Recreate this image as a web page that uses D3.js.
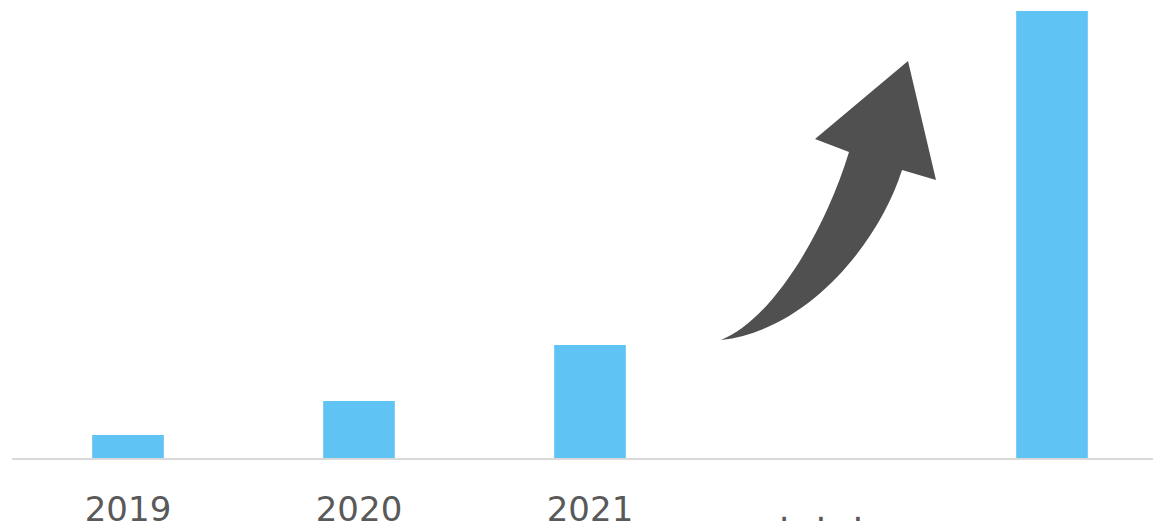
<!DOCTYPE html>
<html>
<head>
<meta charset="utf-8">
<script src="https://cdn.jsdelivr.net/npm/d3@7"></script>
<style>
  html, body { margin: 0; padding: 0; background: #fff; }
  svg { display: block; }
</style>
</head>
<body>
<svg id="mainsvg" width="1153" height="527"></svg>
<script>
// categories and values (last category has no label)
var categories = ["2019", "2020", "2021", "dots", "future"];
var tickLabels = ["2019", "2020", "2021", "...", ""];
var values = [24, 58, 114, null, 448];

var svg = d3.select("#mainsvg");

var x = d3.scaleBand()
    .domain(categories)
    .range([12.5, 1167.5])
    .paddingInner(0.69)
    .paddingOuter(0.345);

var y = d3.scaleLinear()
    .domain([0, 448])
    .range([459, 11]);

// bars
svg.append("g")
    .selectAll("rect")
    .data(categories.map(function(c, i){ return {cat: c, v: values[i]}; })
          .filter(function(d){ return d.v != null; }))
    .enter()
    .append("rect")
    .attr("x", function(d){ return x(d.cat); })
    .attr("y", function(d){ return y(d.v); })
    .attr("width", x.bandwidth())
    .attr("height", function(d){ return y(0) - y(d.v); })
    .style("fill", "#5fc3f4");

// axis line + labels
var axis = svg.append("g")
    .attr("transform", "translate(0," + y(0) + ")")
    .call(d3.axisBottom(x)
          .tickSize(0)
          .tickPadding(62)
          .tickFormat(function(d, i){ return tickLabels[i]; }));

axis.select(".domain")
    .attr("d", "M12,0H1153")
    .style("stroke", "#d9d9d9")
    .style("stroke-width", 2);

axis.selectAll("text")
    .attr("dy", 0)
    .style("font-family", "'DejaVu Sans', Verdana, sans-serif")
    .style("font-size", "34px")
    .style("fill", "#595959");

axis.selectAll(".tick text")
    .filter(function(d){ return d === "dots"; })
    .style("letter-spacing", "26px")
    .attr("dx", "13px");

// curved arrow
svg.append("path")
    .attr("d", "M721,340 C768,322 822,240 849,152 L815,139 L908,61 L936,180 L902,170 C880,240 810,330 721,340 Z")
    .style("fill", "#505050");
</script>
</body>
</html>
